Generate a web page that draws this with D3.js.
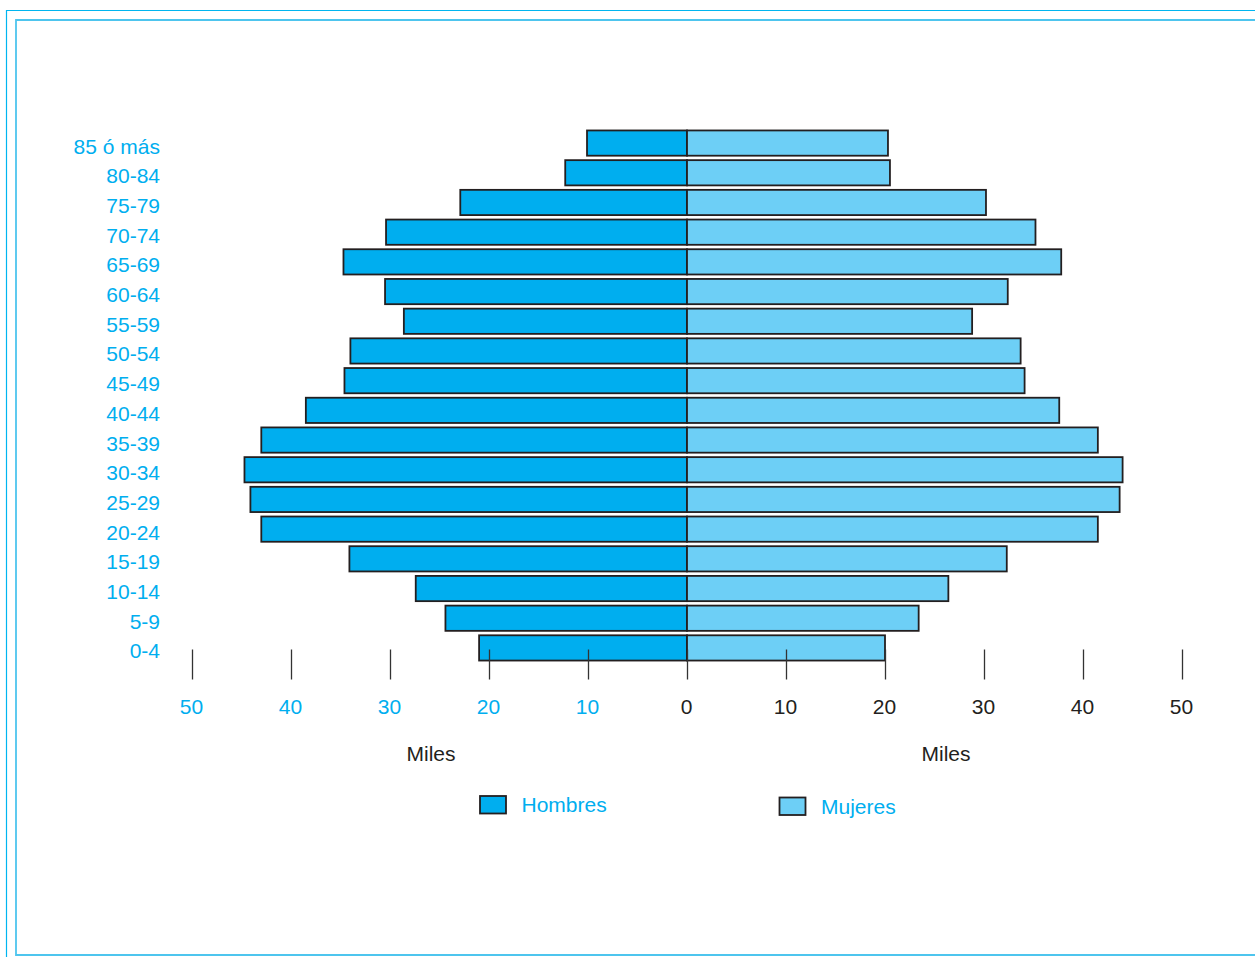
<!DOCTYPE html>
<html>
<head>
<meta charset="utf-8">
<script src="https://cdn.jsdelivr.net/npm/d3@7"></script>
<style>
  html, body { margin: 0; padding: 0; background: #fff; }
  svg { display: block; }
  text { font-family: "Liberation Sans", Arial, Helvetica, sans-serif; }
</style>
</head>
<body>
<svg id="chart" width="1255" height="957"></svg>
<script>
// ---- Data ----
const categories = ["85 ó más","80-84","75-79","70-74","65-69","60-64","55-59","50-54","45-49","40-44","35-39","30-34","25-29","20-24","15-19","10-14","5-9","0-4"];
const hombres = [10.1, 12.3, 22.9, 30.4, 34.7, 30.5, 28.6, 34.0, 34.6, 38.5, 43.0, 44.7, 44.1, 43.0, 34.1, 27.4, 24.4, 21.0];
const mujeres = [20.3, 20.5, 30.2, 35.2, 37.8, 32.4, 28.8, 33.7, 34.1, 37.6, 41.5, 44.0, 43.7, 41.5, 32.3, 26.4, 23.4, 20.0];
const tickValues = [0, 10, 20, 30, 40, 50];
const axisTitle = "Miles";
const seriesNames = ["Hombres", "Mujeres"];

// ---- Style ----
const colH = "#00aeef";
const colM = "#6dcff6";
const stroke = "#231f20";
const blue = "#00aeef";
const fontSize = 21;

const svg = d3.select("#chart");

// frames
svg.append("path")
  .attr("d", "M1260,10.5 H6.5 V962")
  .attr("fill", "none").attr("stroke", "#00b5f0").attr("stroke-width", 1.2);
svg.append("path")
  .attr("d", "M1260,20 H16 V955 H1260")
  .attr("fill", "none").attr("stroke", "#4ec5ee").attr("stroke-width", 1.8);

// scales
const x0 = 687;
const xLeft = d3.scaleLinear().domain([50, 0]).range([192, x0]);
const xRight = d3.scaleLinear().domain([0, 50]).range([x0, 1182]);
const y = d3.scaleBand().domain(categories).range([126, 665]).padding(0.15);

// bars
const g = svg.append("g");
g.selectAll("rect.h").data(categories).join("rect")
  .attr("class", "h")
  .attr("x", (d, i) => xLeft(hombres[i]))
  .attr("width", (d, i) => x0 - xLeft(hombres[i]))
  .attr("y", d => y(d))
  .attr("height", y.bandwidth())
  .attr("fill", colH).attr("stroke", stroke).attr("stroke-width", 1.8);
g.selectAll("rect.m").data(categories).join("rect")
  .attr("class", "m")
  .attr("x", x0)
  .attr("width", (d, i) => xRight(mujeres[i]) - x0)
  .attr("y", d => y(d))
  .attr("height", y.bandwidth())
  .attr("fill", colM).attr("stroke", stroke).attr("stroke-width", 1.8);

// category labels
svg.append("g").selectAll("text").data(categories).join("text")
  .attr("x", 160)
  .attr("y", d => y(d) + y.bandwidth() / 2 + 10.5)
  .attr("text-anchor", "end")
  .attr("fill", blue)
  .attr("font-size", fontSize)
  .text(d => d);

// axes
const axisY = 649.5;
const leftAxis = d3.axisBottom(xLeft).tickValues(tickValues).tickSize(30).tickPadding(0).tickFormat(d3.format("d"));
const rightAxis = d3.axisBottom(xRight).tickValues(tickValues.filter(v => v > 0)).tickSize(30).tickPadding(0).tickFormat(d3.format("d"));

function styleAxis(sel, labelColor) {
  sel.select(".domain").remove();
  sel.selectAll(".tick line").attr("stroke", "#333").attr("stroke-width", 1.3);
  sel.selectAll(".tick text")
    .attr("y", 0)
    .attr("dy", 0)
    .attr("transform", "translate(-1,64)")
    .attr("font-size", fontSize)
    .attr("font-family", null)
    .attr("fill", labelColor);
}
const gl = svg.append("g").attr("transform", `translate(0,${axisY})`).call(leftAxis);
styleAxis(gl, d => d === 0 ? stroke : blue);
const gr = svg.append("g").attr("transform", `translate(0,${axisY})`).call(rightAxis);
styleAxis(gr, stroke);

// axis titles
svg.append("text").attr("x", 431).attr("y", 761).attr("text-anchor", "middle")
  .attr("font-size", fontSize).attr("fill", stroke).text(axisTitle);
svg.append("text").attr("x", 946).attr("y", 761).attr("text-anchor", "middle")
  .attr("font-size", fontSize).attr("fill", stroke).text(axisTitle);

// legend
const legend = [
  {name: seriesNames[0], color: colH, x: 480, y: 796},
  {name: seriesNames[1], color: colM, x: 779.5, y: 797.5}
];
const lg = svg.append("g").selectAll("g").data(legend).join("g");
lg.append("rect")
  .attr("x", d => d.x).attr("y", d => d.y)
  .attr("width", 26).attr("height", 17.5)
  .attr("fill", d => d.color).attr("stroke", stroke).attr("stroke-width", 1.8);
lg.append("text")
  .attr("x", d => d.x + 41.5).attr("y", d => d.y + 16)
  .attr("font-size", fontSize).attr("fill", blue)
  .text(d => d.name);
</script>
</body>
</html>
